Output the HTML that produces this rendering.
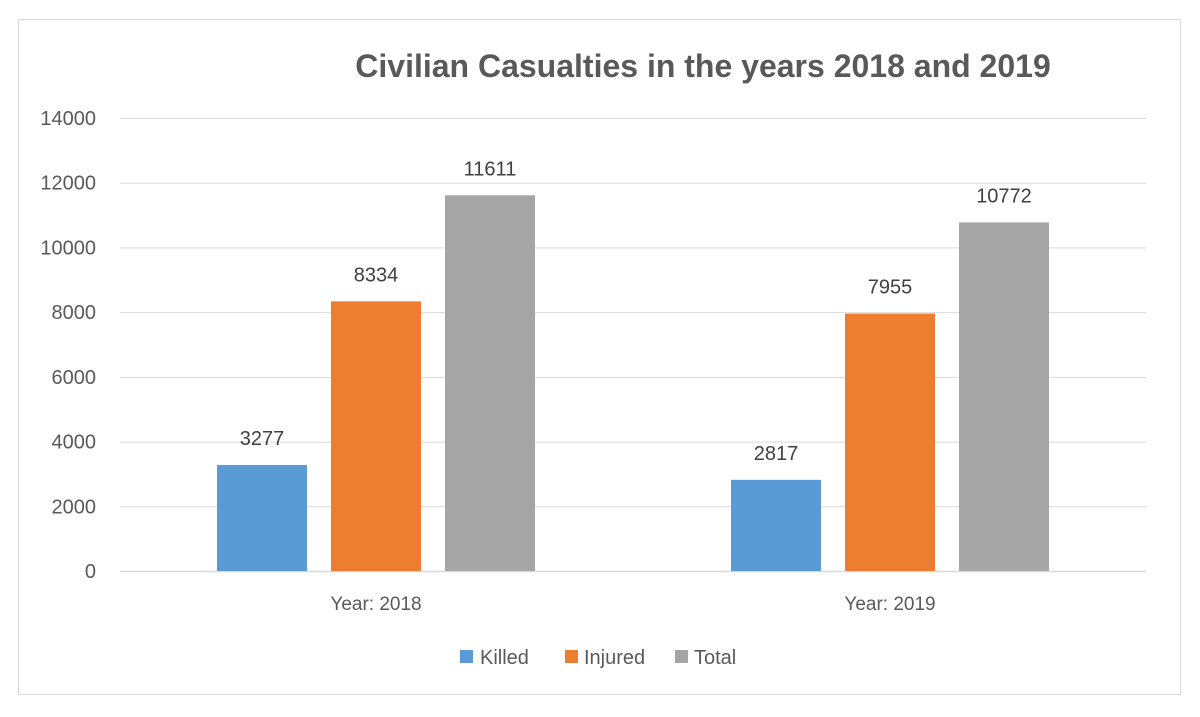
<!DOCTYPE html>
<html><head><meta charset="utf-8"><style>
body{margin:0;background:#fff;}
svg{display:block;font-family:"Liberation Sans",Calibri,sans-serif;}
</style></head><body>
<svg width="1200" height="717" id="c">
<rect x="18.5" y="19.5" width="1162" height="675" fill="#fff" stroke="#d9d9d9"/>
<text x="703" y="77" text-anchor="middle" font-size="32" font-weight="bold" fill="#595959">Civilian Casualties in the years 2018 and 2019</text>
<g id="grid"></g><g id="bars"></g><g id="labels"></g>
<g>
<rect x="460" y="650" width="13" height="13" fill="#5b9bd5"/>
<text x="480" y="664" font-size="20" fill="#595959">Killed</text>
<rect x="565" y="650" width="13" height="13" fill="#ed7d31"/>
<text x="584" y="664" font-size="20" fill="#595959">Injured</text>
<rect x="675" y="650" width="13" height="13" fill="#a5a5a5"/>
<text x="694" y="664" font-size="20" fill="#595959">Total</text>
</g>
</svg>
<script>
const categories=["Year: 2018","Year: 2019"];
const killed=[3277,2817];
const injured=[8334,7955];
const total=[11611,10772];
const ticks=[0,2000,4000,6000,8000,10000,12000,14000];
const NS="http://www.w3.org/2000/svg";
const y0=571,yTop=118,ymax=14000,xL=120,xR=1146;
const y=v=>y0-(v/ymax)*(y0-yTop);
const catW=514;
const cx=i=>376+catW*i;
function mk(t,a,p){const e=document.createElementNS(NS,t);for(const k in a)e.setAttribute(k,a[k]);p.appendChild(e);return e;}
const G=document.getElementById('grid'),B=document.getElementById('bars'),L=document.getElementById('labels');
ticks.forEach(t=>{
 const l=mk('line',{x1:xL,x2:xR,y1:y(t)+0.5,y2:y(t)+0.5,stroke:'#d9d9d9','stroke-width':t===0?1.5:1},G);
 
 
 const tx=mk('text',{x:96,y:y(t)+7,'text-anchor':'end','font-size':20,fill:'#595959'},G);
 tx.textContent=t;
 
 
});
const series=[[killed,'#5b9bd5','killed'],[injured,'#ed7d31','injured'],[total,'#a5a5a5','total']];
const bw=90,step=114;
categories.forEach((c,i)=>{
 series.forEach(([vals,col,nm],j)=>{
  const x=cx(i)+(j-1)*step-bw/2;
  const r=mk('rect',{x:x,y:y(vals[i]),width:bw,height:y0-y(vals[i]),fill:col},B);
  
  
  const t=mk('text',{x:x+bw/2,y:y(vals[i])-20,'text-anchor':'middle','font-size':20,fill:'#404040'},L);
  t.textContent=vals[i];
  
  
 });
 const ct=mk('text',{x:cx(i),y:610,'text-anchor':'middle','font-size':19,fill:'#595959'},L);
 ct.textContent=c;
 
 
});
</script>
</body></html>
